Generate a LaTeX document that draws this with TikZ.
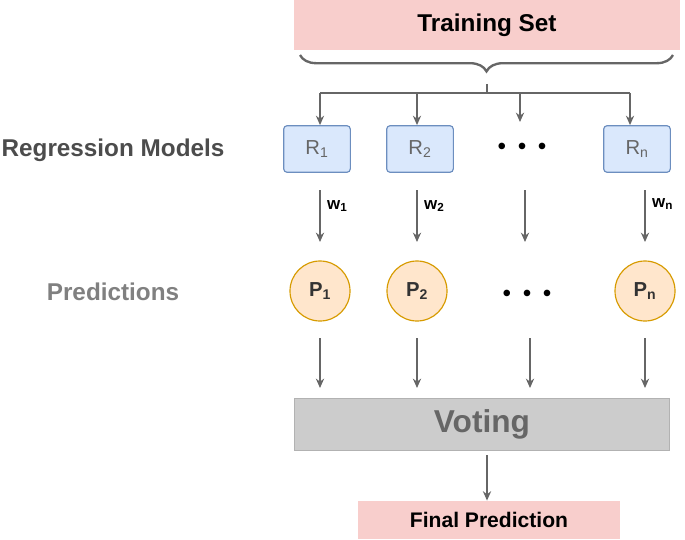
\documentclass[tikz,border=0pt]{standalone}
\usepackage{fontspec}
\setmainfont{Liberation Sans}
\usetikzlibrary{arrows.meta,decorations.pathreplacing}
\definecolor{pinkfill}{HTML}{F8CECC}
\definecolor{bluefill}{HTML}{DAE8FC}
\definecolor{bluedraw}{HTML}{6C8EBF}
\definecolor{orangefill}{HTML}{FFE6CC}
\definecolor{orangedraw}{HTML}{D79B00}
\definecolor{arrowgray}{HTML}{666666}
\newcommand{\vdotsrow}{\textbullet\hspace{0.35cm}\textbullet\hspace{0.35cm}\textbullet}
\tikzset{
  model/.style={draw=bluedraw,fill=bluefill,rounded corners=3pt,line width=1pt,
    minimum width=2.0cm,minimum height=1.4cm,font=\LARGE,text=arrowgray},
  pred/.style={circle,draw=orangedraw,fill=orangefill,line width=1pt,
    minimum size=1.8cm,inner sep=0pt,font=\bfseries\LARGE,text=black!80},
  flow/.style={-{Stealth[length=8pt,width=7pt]},arrowgray,line width=1.6pt},
  weight/.style={font=\bfseries\Large,anchor=west},
  dots/.style={font=\huge}
}
\begin{document}
\begin{tikzpicture}[x=0.03cm,y=-0.03cm]
\useasboundingbox (0,0) rectangle (685,539);
% top and bottom boxes
\node[fill=pinkfill,minimum width=11.55cm,minimum height=1.5cm,font=\bfseries\huge] (train) at (487,25) {Training Set};
\node[fill=pinkfill,minimum width=7.85cm,minimum height=1.15cm,font=\bfseries\fontsize{18}{22}\selectfont] (final) at (489,520) {Final Prediction};
\node[fill=black!20,draw=black!30,minimum width=11.25cm,minimum height=1.55cm,font=\bfseries\fontsize{27}{32}\selectfont,text=arrowgray] (vote) at (482,424) {Voting};
% row labels
\node[font=\bfseries\huge,text=black!70] (lblR) at (113,150) {Regression Models};
\node[font=\bfseries\huge,text=black!50] (lblP) at (113,292) {Predictions};
% models and predictions
\node[model] (r1) at (317,149) {R\textsubscript{1}};
\node[model] (r2) at (420,149) {R\textsubscript{2}};
\node[model] (rn) at (637,149) {R\textsubscript{n}};
\node[dots] (rd) at (522,149) {\vdotsrow};
\node[pred] (p1) at (320,291) {P\textsubscript{1}};
\node[pred] (p2) at (417,291) {P\textsubscript{2}};
\node[pred] (pn) at (645,291) {P\textsubscript{n}};
\node[dots] (pd) at (527,296) {\vdotsrow};
% brace and split
\draw[decorate,decoration={brace,amplitude=14pt,mirror},arrowgray,line width=2pt] (300,55) -- (673,55);
\coordinate (split) at (487,93);
\draw[arrowgray,line width=2pt] (487,84) -- (split);
\draw[arrowgray,line width=1.6pt] (320,93) -- (630,93);
\foreach \x/\t in {320/r1,417/r2,630/rn}
  \draw[flow] (\x,93) -- (\t.north -| \x,0);
\coordinate (dtop) at (520,122);
\draw[flow] (520,93) -- (dtop);
% weights
\foreach \x/\n in {320/1,417/2,525/3,645/4}
  \draw[flow] (\x,190) -- (\x,242);
\node[weight] (w1) at (323,206) {w\textsubscript{1}};
\node[weight] (w2) at (420,206) {w\textsubscript{2}};
\node[weight] (wn) at (648,204) {w\textsubscript{n}};
% to voting
\foreach \x in {320,417,530,645}
  \draw[flow] (\x,338) -- (\x,388);
\coordinate (vbot) at (487,455);
\draw[flow] (vbot) -- (final.north -| vbot);
\end{tikzpicture}
\end{document}
